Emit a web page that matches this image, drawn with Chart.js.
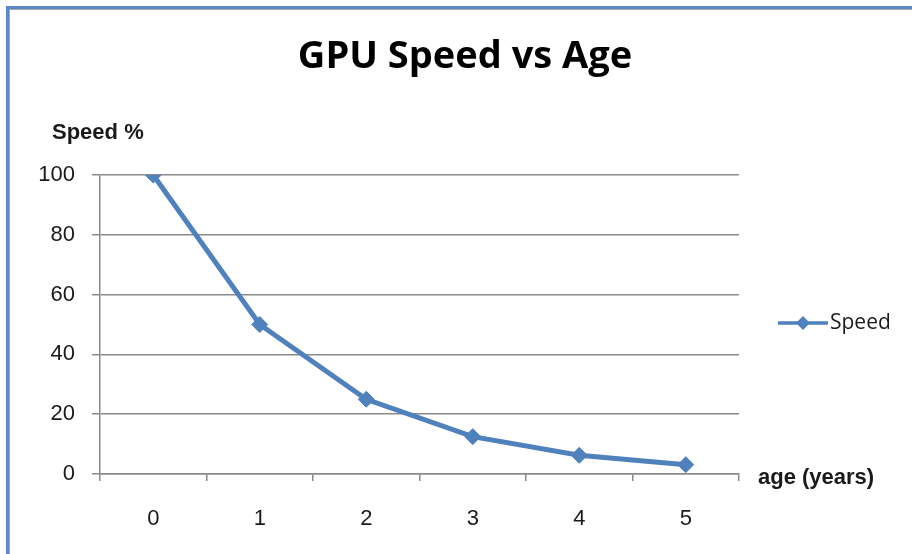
<!DOCTYPE html>
<html>
<head>
<meta charset="utf-8">
<script src="https://cdn.jsdelivr.net/npm/chart.js@4/dist/chart.umd.min.js"></script>
<style>
  html, body { margin: 0; padding: 0; background: #fff; }
  #wrap { position: relative; width: 912px; height: 554px; }
  #frame {
    position: absolute; left: 6px; top: 6px; width: 920px; height: 560px;
    border-left: 3px solid #5b88c4; border-top: 3px solid #5b88c4;
    box-shadow: inset 1px 1px 0 #a8a8a8;
  }
  canvas { position: absolute; left: 0; top: 0; }
</style>
</head>
<body>
<div id="wrap">
  <div id="frame"></div>
  <canvas id="gpuChart" width="912" height="554"></canvas>
</div>
<script>
// dados
const ages = ['0', '1', '2', '3', '4', '5'];
const speed = [100, 50, 25, 12.5, 6.25, 3.125];
const yTicks = [0, 20, 40, 60, 80, 100];

const chartTitle = 'GPU Speed vs Age';
const yTitle = 'Speed %';
const xTitle = 'age (years)';
const seriesName = 'Speed';

const blue = '#4f81bd';
const gray = '#8a8a8a';

// textos extras (título, eixos, legenda)
const extras = {
  id: 'extras',
  afterDraw(chart) {
    const c = chart.ctx;
    c.save();
    c.fillStyle = '#000';
    c.textBaseline = 'middle';
    c.textAlign = 'center';
    c.font = 'bold 38px "Open Sans"';
    c.fillText(chartTitle, 465, 57);

    c.fillStyle = '#1a1a1a';
    c.font = 'bold 22px "Liberation Sans"';
    c.textAlign = 'left';
    c.fillText(yTitle, 52, 133);
    c.fillText(xTitle, 758, 478);

    // legenda
    const ly = 323;
    c.strokeStyle = blue;
    c.lineWidth = 3.5;
    c.beginPath();
    c.moveTo(778, ly);
    c.lineTo(828, ly);
    c.stroke();
    c.fillStyle = blue;
    c.beginPath();
    c.moveTo(803, ly - 7);
    c.lineTo(810, ly);
    c.lineTo(803, ly + 7);
    c.lineTo(796, ly);
    c.closePath();
    c.fill();
    c.fillStyle = '#1a1a1a';
    c.font = '21px "Open Sans"';
    c.fillText(seriesName, 830, ly);
    c.restore();
  }
};

const ctx = document.getElementById('gpuChart').getContext('2d');
const chart = new Chart(ctx, {
  type: 'line',
  data: {
    labels: ages,
    datasets: [{
      label: seriesName,
      data: speed,
      borderColor: blue,
      backgroundColor: blue,
      borderWidth: 5,
      pointStyle: 'rectRot',
      pointRadius: 8,
      pointHoverRadius: 8,
      pointBorderWidth: 1,
      tension: 0
    }]
  },
  options: {
    responsive: false,
    animation: false,
    layout: { padding: { left: 10, top: 175, right: 173, bottom: 20 } },
    plugins: {
      legend: { display: false },
      title: { display: false },
      tooltip: { enabled: false }
    },
    scales: {
      x: {
        offset: true,
        grid: { offset: true, drawOnChartArea: false, color: gray, tickLength: 7, lineWidth: 1.5 },
        border: { color: gray, width: 1.5 },
        ticks: { color: '#1a1a1a', font: { family: 'Liberation Sans', size: 22 }, padding: 25 },
        afterFit(scale) { scale.height = 554 - 474 - 20; }
      },
      y: {
        min: 0,
        max: 100,
        afterBuildTicks(scale) { scale.ticks = yTicks.map(v => ({ value: v })); },
        grid: { color: gray, tickLength: 8, lineWidth: 1.5 },
        border: { color: gray, width: 1.5 },
        ticks: { color: '#1a1a1a', font: { family: 'Liberation Sans', size: 22 }, padding: 17 },
        afterFit(scale) { scale.width = 100 - 10; }
      }
    }
  },
  plugins: [extras]
});
</script>
</body>
</html>
